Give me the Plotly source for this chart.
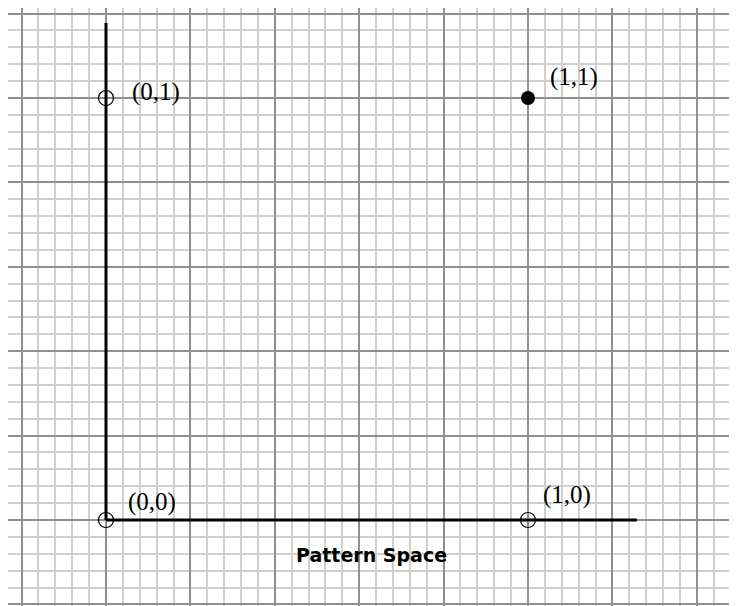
import plotly.graph_objects as go

# Data
open_x = [0, 0, 1]
open_y = [0, 1, 0]
filled_x = [1]
filled_y = [1]
label_texts = ["(0,0)", "(0,1)", "(1,0)", "(1,1)"]
label_x = [0, 0, 1, 1]
label_y = [0, 1, 0, 1]
axis_v_x = [0, 0]
axis_v_y = [0, 1.178]
axis_h_x = [0, 1.258]
axis_h_y = [0, 0]
caption = "Pattern Space"

# label pixel offsets (xshift, yshift)
label_shift = {"(0,0)": (20, 18), "(0,1)": (24, 6), "(1,0)": (13, 25), "(1,1)": (20, 21)}

fig = go.Figure()
fig.add_trace(go.Scatter(x=axis_v_x, y=axis_v_y, mode="lines",
                         line=dict(color="black", width=3), hoverinfo="skip"))
fig.add_trace(go.Scatter(x=axis_h_x, y=axis_h_y, mode="lines",
                         line=dict(color="black", width=3), hoverinfo="skip"))
fig.add_trace(go.Scatter(x=open_x, y=open_y, mode="markers",
                         marker=dict(symbol="circle-open", size=15, color="black",
                                     line=dict(width=1.2, color="black"))))
fig.add_trace(go.Scatter(x=filled_x, y=filled_y, mode="markers",
                         marker=dict(symbol="circle", size=14, color="black")))

for t, lx, ly in zip(label_texts, label_x, label_y):
    sx, sy = label_shift[t]
    fig.add_annotation(x=lx, y=ly, xref="x", yref="y", text=t, showarrow=False,
                       xanchor="left", yanchor="middle", xshift=sx, yshift=sy,
                       font=dict(family="Liberation Serif", size=25, color="black"))

fig.add_annotation(x=0.63, y=-0.083, xref="x", yref="y", text="<b>" + caption + "</b>",
                   showarrow=False, xanchor="center", yanchor="middle",
                   font=dict(family="DejaVu Sans", size=19, color="black"))

grid_major = "#8f8f8f"
grid_minor = "#cfcfcf"
axis_common = dict(showticklabels=False, ticks="", zeroline=False, showline=False,
                   tick0=0, dtick=0.2, showgrid=True, gridcolor=grid_major, gridwidth=2,
                   minor=dict(dtick=0.04, tick0=0, showgrid=True, gridcolor=grid_minor,
                              gridwidth=2, ticks=""))
fig.update_xaxes(range=[-0.2322, 1.4953], **axis_common)
fig.update_yaxes(range=[-0.2038, 1.2133], **axis_common)

fig.update_layout(width=729, height=598, showlegend=False,
                  margin=dict(l=0, r=0, t=0, b=0, pad=0, autoexpand=False),
                  paper_bgcolor="white", plot_bgcolor="white")

fig.write_html("out.html")
